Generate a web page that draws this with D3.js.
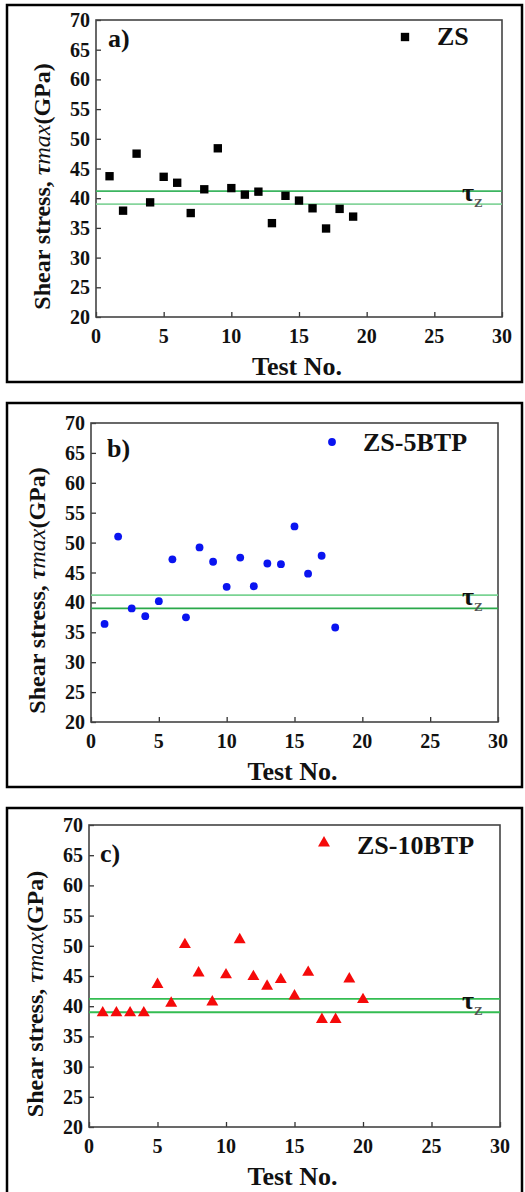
<!doctype html>
<html lang="en">
  <head>
    <meta charset="utf-8">
    <title>Shear stress vs test no.</title>
    <script src="https://d3js.org/d3.v7.min.js"></script>
    <style>
      body { margin: 0; background: #fff; }
      text { font-family: "Liberation Serif", "Times New Roman", serif; font-weight: bold; fill: #111; }
    </style>
  </head>

  <body>
    <svg width="525" height="1192"></svg>
    <script>
      // data
      var xTicks = [0, 5, 10, 15, 20, 25, 30];
      var yTicks = [20, 25, 30, 35, 40, 45, 50, 55, 60, 65, 70];
      var tauZ = [41.2, 39.0];

      var testA = [1, 2, 3, 4, 5, 6, 7, 8, 9, 10, 11, 12, 13, 14, 15, 16, 17, 18, 19];
      var stressA = [43.7, 37.9, 47.5, 39.3, 43.6, 42.6, 37.5, 41.5, 48.4, 41.7, 40.6, 41.1, 35.8, 40.4, 39.6, 38.3, 34.9, 38.2, 36.9];

      var testB = [1, 2, 3, 4, 5, 6, 7, 8, 9, 10, 11, 12, 13, 14, 15, 16, 17, 18];
      var stressB = [36.4, 51.0, 39.0, 37.7, 40.2, 47.2, 37.5, 49.2, 46.8, 42.6, 47.5, 42.7, 46.5, 46.4, 52.7, 44.8, 47.8, 35.8];

      var testC = [1, 2, 3, 4, 5, 6, 7, 8, 9, 10, 11, 12, 13, 14, 15, 16, 17, 18, 19, 20];
      var stressC = [38.9, 38.9, 38.9, 38.9, 43.6, 40.5, 50.2, 45.5, 40.7, 45.2, 51.0, 44.9, 43.3, 44.4, 41.7, 45.6, 37.8, 37.8, 44.5, 41.1];

      var svg = d3.select('svg');

      var panels = [
        { tag: 'a)', name: 'ZS', xs: testA, ys: stressA, shape: d3.symbolSquare, size: 70, color: '#000',
          frame: [7, 5, 515, 377], plot: [96, 502, 20, 317], yTitleX: 42,
          tag_xy: [108, 47], leg: [405, 37, 437, 45], lineColors: ['#3cb560', '#86d59c'] },
        { tag: 'b)', name: 'ZS-5BTP', xs: testB, ys: stressB, shape: d3.symbolCircle, size: 48, color: '#0a14f0',
          frame: [7, 403, 515, 384], plot: [91, 498, 423, 722], yTitleX: 37,
          tag_xy: [107, 457], leg: [332, 442, 363, 451], lineColors: ['#7ad393', '#2aa84a'] },
        { tag: 'c)', name: 'ZS-10BTP', xs: testC, ys: stressC, shape: d3.symbolTriangle, size: 62, color: '#f50a0a',
          frame: [7, 808, 515, 400], plot: [89, 500, 825, 1127], yTitleX: 35,
          tag_xy: [100, 862], leg: [324, 843, 357, 854], lineColors: ['#34bd52', '#34bd52'] }
      ];

      panels.forEach(function(p){
        var g = svg.append('g');
        var l = p.plot[0], r = p.plot[1], t = p.plot[2], b = p.plot[3];

        // outer frame
        g.append('rect')
          .attr('x', p.frame[0]).attr('y', p.frame[1])
          .attr('width', p.frame[2]).attr('height', p.frame[3])
          .attr('fill', 'none').attr('stroke', '#000').attr('stroke-width', 2.5);

        var x = d3.scaleLinear().domain([0, 30]).range([l, r]);
        var y = d3.scaleLinear().domain([20, 70]).range([b, t]);

        // ticks pointing inward
        var xAxis = g.append('g').attr('transform', 'translate(0,' + b + ')')
          .call(d3.axisTop(x).tickValues(xTicks).tickSize(5).tickFormat(''));
        var yAxis = g.append('g').attr('transform', 'translate(' + l + ',0)')
          .call(d3.axisRight(y).tickValues(yTicks).tickSize(5).tickFormat(''));
        [xAxis, yAxis].forEach(function(a){
          a.select('.domain').remove();
          a.selectAll('line').attr('stroke', '#333').attr('stroke-width', 1.3);
        });

        g.selectAll('.xlab').data(xTicks).enter().append('text')
          .attr('x', function(d){ return x(d); })
          .attr('y', b + 26)
          .attr('text-anchor', 'middle')
          .style('font-size', '20px')
          .text(function(d){ return d; });

        g.selectAll('.ylab').data(yTicks).enter().append('text')
          .attr('x', l - 6)
          .attr('y', function(d){ return y(d) + 7; })
          .attr('text-anchor', 'end')
          .style('font-size', '20px')
          .text(function(d){ return d; });

        // plot box
        g.append('rect')
          .attr('x', l).attr('y', t).attr('width', r - l).attr('height', b - t)
          .attr('fill', 'none').attr('stroke', '#444').attr('stroke-width', 1.6);

        // tau_Z band lines
        tauZ.forEach(function(v, i){
          g.append('line')
            .attr('x1', l).attr('x2', r)
            .attr('y1', y(v)).attr('y2', y(v))
            .attr('stroke', p.lineColors[i]).attr('stroke-width', 1.8);
        });
        var tz = g.append('text')
          .attr('x', 462).attr('y', y(tauZ[1]) - 3)
          .style('font-size', '26px');
        tz.append('tspan').text('τ');
        tz.append('tspan').attr('dy', 6).style('font-size', '13px').style('fill', '#555').text('Z');

        // points
        g.selectAll('.pt').data(p.xs).enter().append('path')
          .attr('d', d3.symbol().type(p.shape).size(p.size))
          .attr('transform', function(d, i){ return 'translate(' + x(d) + ',' + y(p.ys[i]) + ')'; })
          .attr('fill', p.color);

        // legend
        g.append('path')
          .attr('d', d3.symbol().type(p.shape).size(p.size))
          .attr('transform', 'translate(' + p.leg[0] + ',' + p.leg[1] + ')')
          .attr('fill', p.color);
        g.append('text')
          .attr('x', p.leg[2]).attr('y', p.leg[3])
          .style('font-size', '26px')
          .text(p.name);

        g.append('text')
          .attr('x', p.tag_xy[0]).attr('y', p.tag_xy[1])
          .style('font-size', '26px')
          .text(p.tag);

        // axis titles
        g.append('text')
          .attr('x', (l + r) / 2 - 2).attr('y', b + 58)
          .attr('text-anchor', 'middle')
          .style('font-size', '26px')
          .text('Test No.');

        var yt = g.append('text')
          .attr('transform', 'translate(' + (p.yTitleX + 8) + ',' + ((t + b) / 2 + 18) + ') rotate(-90)')
          .attr('text-anchor', 'middle')
          .style('font-size', '24px');
        yt.append('tspan').text('Shear stress, ');
        yt.append('tspan').style('font-style', 'italic').text('τ');
        yt.append('tspan').style('font-style', 'italic').style('font-weight', 'normal').text('max');
        yt.append('tspan').text('(GPa)');
      });
    </script>
  </body>
</html>
